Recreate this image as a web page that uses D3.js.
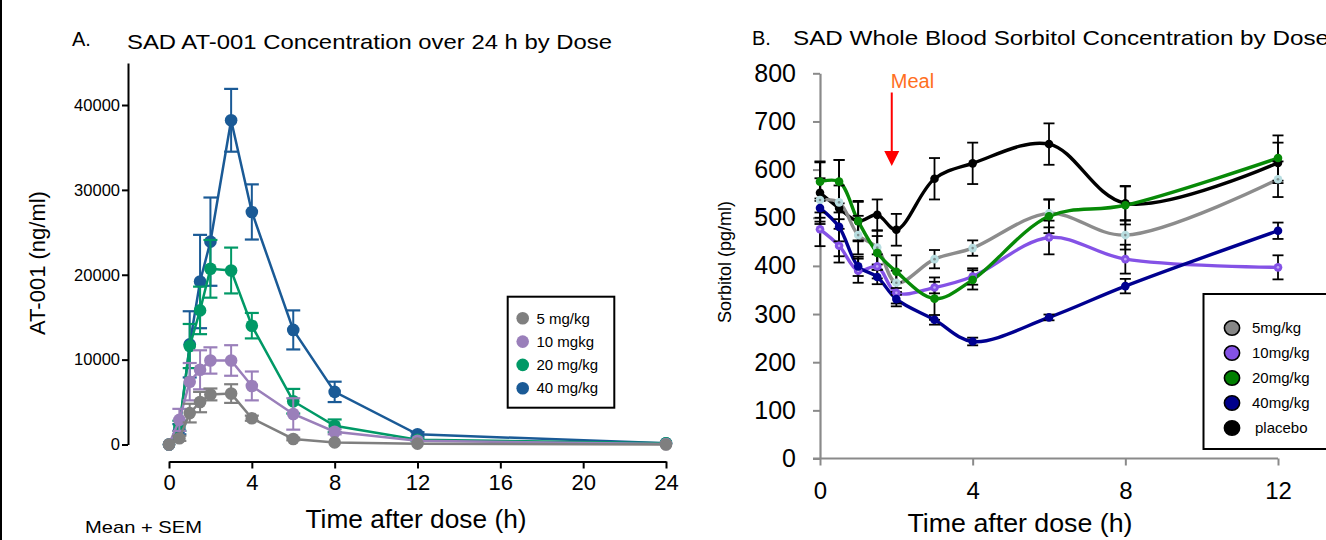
<!DOCTYPE html>
<html><head><meta charset="utf-8">
<script src="https://cdn.jsdelivr.net/npm/d3@7"></script>
<style>
body{margin:0;background:#fff;}
svg{display:block;}
text{font-family:"Liberation Sans",Arial,sans-serif;}
</style>
</head><body>
<svg id="c" width="1326" height="540"></svg>
<script>
// ---------- Panel A data ----------
const timesA = [0, 0.5, 1, 1.5, 2, 3, 4, 6, 8, 12, 24];
const seriesNamesA = ["5 mg/kg", "10 mgkg", "20 mg/kg", "40 mg/kg"];
const colorsA = ["#7f7f7f", "#9a7fba", "#009966", "#1a5a96"];
const conc5  = [0, 730, 3700, 5000, 5900, 6000, 3100, 650, 250, 100, 0];
const conc10 = [0, 2900, 7400, 8800, 9900, 9900, 6900, 3600, 1500, 450, 50];
const conc20 = [0, 2200, 11600, 15800, 20700, 20500, 14000, 5100, 2200, 550, 150];
const conc40 = [0, 1800, 11800, 19200, 23900, 38200, 27400, 13500, 6200, 1200, 150];
const sem5  = [0, 300, 1100, 1200, 700, 1100, 300, 150, 80, 50, 0];
const sem10 = [0, 1300, 2200, 2300, 1550, 1800, 1700, 1850, 300, 100, 20];
const sem20 = [0, 600, 2600, 2800, 3400, 2700, 1500, 1450, 750, 150, 50];
const sem40 = [0, 600, 3900, 5500, 5200, 3700, 3250, 2300, 1200, 250, 50];
const xTicksA = [0, 4, 8, 12, 16, 20, 24];
const yTicksA = [0, 10000, 20000, 30000, 40000];

// ---------- Panel B data ----------
const timesB = [0, 0.5, 1, 1.5, 2, 3, 4, 6, 8, 12];
const seriesNamesB = ["5mg/kg", "10mg/kg", "20mg/kg", "40mg/kg", "placebo"];
const lineColorsB = ["#8c8c8c", "#8452e6", "#078a07", "#000090", "#000000"];
const legendFillB = ["#878787", "#8452e6", "#007f00", "#00008b", "#000000"];
const sorb5   = [537, 532, 464, 438, 365, 414, 437, 509, 464, 580];
const sorb10  = [476, 442, 390, 399, 344, 355, 378, 459, 414, 397];
const sorb20  = [575, 575, 493, 427, 388, 332, 371, 503, 526, 624];
const sorb40  = [520, 481, 399, 377, 331, 288, 243, 293, 358, 473];
const sorbPl  = [552, 520, 493, 506, 475, 581, 613, 653, 530, 614];
const err5    = [45, 35, 40, 35, 25, 19, 16, 29, 30, 37];
const err10   = [35, 35, 25, 25, 22, 12, 17, 35, 30, 25];
const err20   = [40, 45, 40, 35, 34, 44, 20, 35, 40, 47];
const err40   = [20, 30, 20, 15, 15, 10, 8, 6, 15, 17];
const errPl   = [65, 100, 42, 32, 33, 43, 43, 43, 35, 42];
const xTicksB = [0, 4, 8, 12];
const yTicksB = [0, 100, 200, 300, 400, 500, 600, 700, 800];
const mealTime = 1.88;

const svg = d3.select("#c");

// left border
svg.append("line").attr("x1",1).attr("x2",1).attr("y1",0).attr("y2",540)
  .attr("stroke","#000").attr("stroke-width",2);

// ================= Panel A =================
const xA = d3.scaleLinear().domain([0, 24]).range([169, 666]);
const yA = d3.scaleLinear().domain([0, 44950]).range([444.5, 63]);

svg.append("text").attr("x",72).attr("y",46).attr("font-size",20).text("A.");
svg.append("text").attr("x",127).attr("y",49).attr("font-size",21)
  .attr("textLength",485).attr("lengthAdjust","spacingAndGlyphs")
  .text("SAD AT-001 Concentration over 24 h by Dose");

const gyA = svg.append("g").attr("transform","translate(128,0)")
  .call(d3.axisLeft(yA).tickValues(yTicksA).tickSize(6).tickSizeOuter(0).tickPadding(2).tickFormat(d=>String(d)));
gyA.select(".domain").attr("stroke","#000").attr("stroke-width",2);
gyA.selectAll(".tick line").attr("stroke","#000").attr("stroke-width",2);
gyA.selectAll(".tick text").attr("font-size",16.5).attr("fill","#000").attr("font-family","Liberation Sans, Arial, sans-serif");

const gxA = svg.append("g").attr("transform","translate(0,461.5)")
  .call(d3.axisBottom(xA).tickValues(xTicksA).tickSize(7).tickSizeOuter(0).tickPadding(6));
gxA.select(".domain").attr("stroke","#000").attr("stroke-width",2);
gxA.selectAll(".tick line").attr("stroke","#000").attr("stroke-width",2);
gxA.selectAll(".tick text").attr("font-size",22).attr("fill","#000").attr("font-family","Liberation Sans, Arial, sans-serif");

svg.append("text").attr("transform","translate(45,263) rotate(-90)")
  .attr("text-anchor","middle").attr("font-size",22).text("AT-001 (ng/ml)");
svg.append("text").attr("x",416).attr("y",528).attr("text-anchor","middle")
  .attr("font-size",26).attr("textLength",221).attr("lengthAdjust","spacingAndGlyphs")
  .text("Time after dose (h)");
svg.append("text").attr("x",85).attr("y",533).attr("font-size",17)
  .attr("font-family","Open Sans, Noto Sans, sans-serif")
  .attr("textLength",117).attr("lengthAdjust","spacingAndGlyphs").text("Mean + SEM");

const seriesA = [
  {vals: conc40, sem: sem40, c: colorsA[3]},
  {vals: conc20, sem: sem20, c: colorsA[2]},
  {vals: conc10, sem: sem10, c: colorsA[1]},
  {vals: conc5,  sem: sem5,  c: colorsA[0]}
];
const lineA = d3.line().x((d,i)=>xA(timesA[i])).y(d=>yA(d));
seriesA.forEach(s=>{
  const g = svg.append("g");
  g.append("path").attr("d", lineA(s.vals)).attr("fill","none")
    .attr("stroke", s.c).attr("stroke-width",2.5);
  s.vals.forEach((v,i)=>{
    if (s.sem[i] < 150) return;
    const x = xA(timesA[i]);
    const yt = yA(v + s.sem[i]), yb = yA(v - s.sem[i]);
    g.append("line").attr("x1",x).attr("x2",x).attr("y1",yt).attr("y2",yb)
      .attr("stroke",s.c).attr("stroke-width",2);
    [yt, yb].forEach(yy=>g.append("line").attr("x1",x-7).attr("x2",x+7)
      .attr("y1",yy).attr("y2",yy).attr("stroke",s.c).attr("stroke-width",2.2));
  });
  g.selectAll("circle").data(s.vals).join("circle")
    .attr("cx",(d,i)=>xA(timesA[i])).attr("cy",d=>yA(d)).attr("r",6.3).attr("fill",s.c);
});

// legend A
const legA = svg.append("g");
legA.append("rect").attr("x",507.7).attr("y",296.7).attr("width",106.6).attr("height",111)
  .attr("fill","#fff").attr("stroke","#000").attr("stroke-width",2);
seriesNamesA.forEach((n,i)=>{
  const yy = 318.3 + i*23.3;
  legA.append("circle").attr("cx",522.7).attr("cy",yy).attr("r",6.3).attr("fill",colorsA[i]);
  legA.append("text").attr("x",536.5).attr("y",yy+5.2).attr("font-size",15).text(n);
});

// ================= Panel B =================
const xB = d3.scaleLinear().domain([0, 12]).range([820, 1278]);
const yB = d3.scaleLinear().domain([0, 800]).range([458.5, 73.3]);

svg.append("text").attr("x",752).attr("y",45).attr("font-size",20)
  .attr("font-family","Open Sans, Noto Sans, sans-serif").text("B.");
svg.append("text").attr("x",793).attr("y",45).attr("font-size",21)
  .attr("font-family","Open Sans, Noto Sans, sans-serif")
  .attr("textLength",536).attr("lengthAdjust","spacingAndGlyphs")
  .text("SAD Whole Blood Sorbitol Concentration by Dose");

const axisGrey = "#8a8a8a";
const gyB = svg.append("g").attr("transform","translate(820,0)")
  .call(d3.axisLeft(yB).tickValues(yTicksB).tickSize(7).tickSizeOuter(0).tickPadding(17));
gyB.select(".domain").attr("stroke",axisGrey).attr("stroke-width",2.2);
gyB.selectAll(".tick line").attr("stroke",axisGrey).attr("stroke-width",2);
gyB.selectAll(".tick text").attr("font-size",25).attr("fill","#000").attr("font-family","Liberation Sans, Arial, sans-serif");

const gxB = svg.append("g").attr("transform","translate(0,458.5)")
  .call(d3.axisBottom(xB).tickValues(xTicksB).tickSize(7).tickSizeOuter(0).tickPadding(16));
gxB.select(".domain").attr("stroke",axisGrey).attr("stroke-width",2.2)
  .attr("d", `M${xB(0)-7},0H${xB(12)}`);
gxB.selectAll(".tick line").attr("stroke",axisGrey).attr("stroke-width",2);
gxB.selectAll(".tick text").attr("font-size",24).attr("fill","#000").attr("font-family","Liberation Sans, Arial, sans-serif");

svg.append("text").attr("transform","translate(731,262) rotate(-90)")
  .attr("text-anchor","middle").attr("font-size",18).text("Sorbitol (pg/ml)");
svg.append("text").attr("x",1020).attr("y",532).attr("text-anchor","middle")
  .attr("font-size",25).attr("textLength",225).attr("lengthAdjust","spacingAndGlyphs")
  .text("Time after dose (h)");

// Meal annotation
const mx = xB(mealTime);
svg.append("text").attr("x",mx-1).attr("y",87.7).attr("font-size",20).attr("fill","#ff6f1e").text("Meal");
svg.append("line").attr("x1",mx).attr("x2",mx).attr("y1",92.5).attr("y2",152)
  .attr("stroke","#ff0000").attr("stroke-width",2);
svg.append("path").attr("d",`M${mx-7.5},151L${mx+7.5},151L${mx},166Z`).attr("fill","#ff0000");

const seriesB = [
  {vals: sorbPl, err: errPl, c: lineColorsB[4], mk: "solid", mf: "#000"},
  {vals: sorb5,  err: err5,  c: lineColorsB[0], mk: "dot", mf: "#b8dde0", dot: "#7f8f90"},
  {vals: sorb10, err: err10, c: lineColorsB[1], mk: "dot", mf: "#8452e6", dot: "#c0a8f5"},
  {vals: sorb20, err: err20, c: lineColorsB[2], mk: "solid", mf: "#078a07"},
  {vals: sorb40, err: err40, c: lineColorsB[3], mk: "solid", mf: "#000090"}
];
const lineB = d3.line().x((d,i)=>xB(timesB[i])).y(d=>yB(d)).curve(d3.curveCatmullRom.alpha(0.5));
const gLinesB = svg.append("g"), gErrB = svg.append("g"), gMkB = svg.append("g");
seriesB.forEach(s=>{
  gLinesB.append("path").attr("d", lineB(s.vals)).attr("fill","none")
    .attr("stroke", s.c).attr("stroke-width",3.4);
  s.vals.forEach((v,i)=>{
    const x = xB(timesB[i]);
    const yt = yB(v + s.err[i]), yb = yB(v - s.err[i]);
    gErrB.append("line").attr("x1",x).attr("x2",x).attr("y1",yt).attr("y2",yb)
      .attr("stroke","#000").attr("stroke-width",1.8);
    [yt, yb].forEach(yy=>gErrB.append("line").attr("x1",x-5.5).attr("x2",x+5.5)
      .attr("y1",yy).attr("y2",yy).attr("stroke","#000").attr("stroke-width",1.8));
  });
  s.vals.forEach((v,i)=>{
    const x = xB(timesB[i]), y = yB(v);
    gMkB.append("circle").attr("cx",x).attr("cy",y).attr("r",4.3).attr("fill",s.mf);
    if (s.mk === "dot") gMkB.append("circle").attr("cx",x).attr("cy",y).attr("r",1.3).attr("fill",s.dot);
  });
});

// legend B
const legB = svg.append("g");
legB.append("rect").attr("x",1203.5).attr("y",294).attr("width",130).attr("height",155)
  .attr("fill","#fff").attr("stroke","#000").attr("stroke-width",2);
seriesNamesB.forEach((n,i)=>{
  const yy = 328 + i*25;
  legB.append("ellipse").attr("cx",1232).attr("cy",yy).attr("rx",7.6).attr("ry",7.2)
    .attr("fill",legendFillB[i]).attr("stroke","#000").attr("stroke-width",1.6);
  legB.append("text").attr("x", i===4 ? 1255 : 1252).attr("y",yy+5.2).attr("font-size",15).text(n);
});
</script>
</body></html>
